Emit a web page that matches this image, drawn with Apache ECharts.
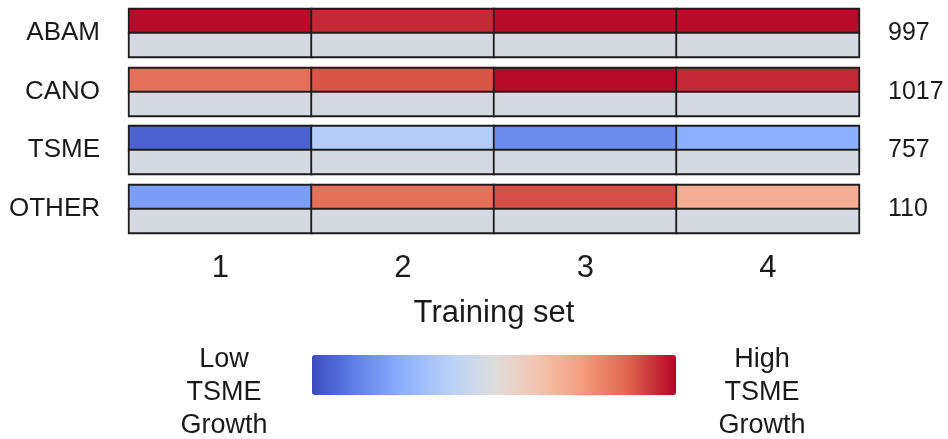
<!DOCTYPE html>
<html>
<head>
<meta charset="utf-8">
<style>
  html, body { margin: 0; padding: 0; background: #ffffff; }
  #chart { width: 948px; height: 439px; }
</style>
<script src="https://cdn.jsdelivr.net/npm/echarts@6/dist/echarts.min.js"></script>
</head>
<body>
<div id="chart"></div>
<script>
// Training sets along the x axis
const trainingSets = ['1', '2', '3', '4'];
// Species blocks, top to bottom, with their sample counts
const species = ['ABAM', 'CANO', 'TSME', 'OTHER'];
const sampleCounts = [997, 1017, 757, 110];
// Relative TSME growth score per training set (0 = low, 1 = high)
const growthABAM = [0.99, 0.95, 0.99, 0.99];
const growthCANO = [0.84, 0.89, 0.99, 0.95];
const growthTSME = [0.05, 0.36, 0.15, 0.25];
const growthOTHER = [0.20, 0.84, 0.90, 0.69];
// Lower row of each block (no score)
const blankRow = [0, 0, 0, 0];

const growthBySpecies = [growthABAM, growthCANO, growthTSME, growthOTHER];

const FONT = 'Liberation Sans, Arial, sans-serif';
const TEXT = '#1a1a1a';
const gridTops = [9, 68, 126, 185];
const blockHeight = 48;

const grids = [], xAxes = [], yAxes = [], series = [];
const scoreSeries = [], blankSeries = [];

species.forEach((name, i) => {
  const last = i === species.length - 1;
  grids.push({ left: 129, right: 89, top: gridTops[i], height: blockHeight });
  xAxes.push({
    type: 'category', gridIndex: i, data: trainingSets,
    axisLine: { show: false }, axisTick: { show: false }, splitLine: { show: false },
    axisLabel: { show: last, fontSize: 31, color: TEXT, fontFamily: FONT, margin: 20 },
    name: last ? 'Training set' : '', nameLocation: 'middle', nameGap: 65,
    nameTextStyle: { fontSize: 31, color: TEXT, fontFamily: FONT }
  });
  const base = yAxes.length;
  // two-row axis carrying the cells
  yAxes.push({
    type: 'category', gridIndex: i, data: ['lower', 'upper'],
    axisLine: { show: false }, axisTick: { show: false }, axisLabel: { show: false }, splitLine: { show: false }
  });
  // species name on the left
  yAxes.push({
    type: 'category', gridIndex: i, data: [name], position: 'left',
    axisLine: { show: false }, axisTick: { show: false }, splitLine: { show: false },
    axisLabel: { fontSize: 26, color: TEXT, fontFamily: FONT, margin: 29, padding: [6, 0, 0, 0] }
  });
  // sample count on the right
  yAxes.push({
    type: 'category', gridIndex: i, data: [String(sampleCounts[i])], position: 'right',
    axisLine: { show: false }, axisTick: { show: false }, splitLine: { show: false },
    axisLabel: { fontSize: 25, color: TEXT, fontFamily: FONT, margin: 29, padding: [6, 0, 0, 0] }
  });
  const cellStyle = { borderColor: '#1c1c1c', borderWidth: 1.8 };
  scoreSeries.push(series.length);
  series.push({
    type: 'heatmap', xAxisIndex: i, yAxisIndex: base,
    data: growthBySpecies[i].map((v, x) => [x, 1, v]),
    itemStyle: cellStyle, emphasis: { disabled: true }, silent: true
  });
  blankSeries.push(series.length);
  series.push({
    type: 'heatmap', xAxisIndex: i, yAxisIndex: base,
    data: blankRow.map((v, x) => [x, 0, v]),
    itemStyle: cellStyle, emphasis: { disabled: true }, silent: true
  });
});

const legendTextStyle = {
  fill: TEXT, font: '27px ' + FONT,
  align: 'center', verticalAlign: 'middle', lineHeight: 33
};

const option = {
  backgroundColor: '#ffffff',
  animation: false,
  grid: grids,
  xAxis: xAxes,
  yAxis: yAxes,
  visualMap: [
    {
      type: 'continuous', seriesIndex: scoreSeries, min: 0, max: 1,
      orient: 'horizontal', left: 307, top: 350, padding: 5,
      itemWidth: 40, itemHeight: 364, calculable: false, realtime: false,
      showLabel: false, text: null, hoverLink: false,
      inRange: {
        color: ['#3b4cc0', '#6282ea', '#8db0fe', '#b8d0f9', '#dddddd',
                '#f5c4ad', '#f49a7b', '#de604d', '#b40426']
      }
    },
    {
      type: 'continuous', seriesIndex: blankSeries, min: 0, max: 1, show: false,
      inRange: { color: ['#d5d9e2', '#d5d9e2'] }
    }
  ],
  graphic: [
    {
      type: 'text', x: 224, y: 393,
      style: Object.assign({ text: 'Low\nTSME\nGrowth' }, legendTextStyle)
    },
    {
      type: 'text', x: 762, y: 393,
      style: Object.assign({ text: 'High\nTSME\nGrowth' }, legendTextStyle)
    }
  ],
  series: series
};

const chart = echarts.init(document.getElementById('chart'), null, { renderer: 'canvas' });
chart.setOption(option);
</script>
</body>
</html>
